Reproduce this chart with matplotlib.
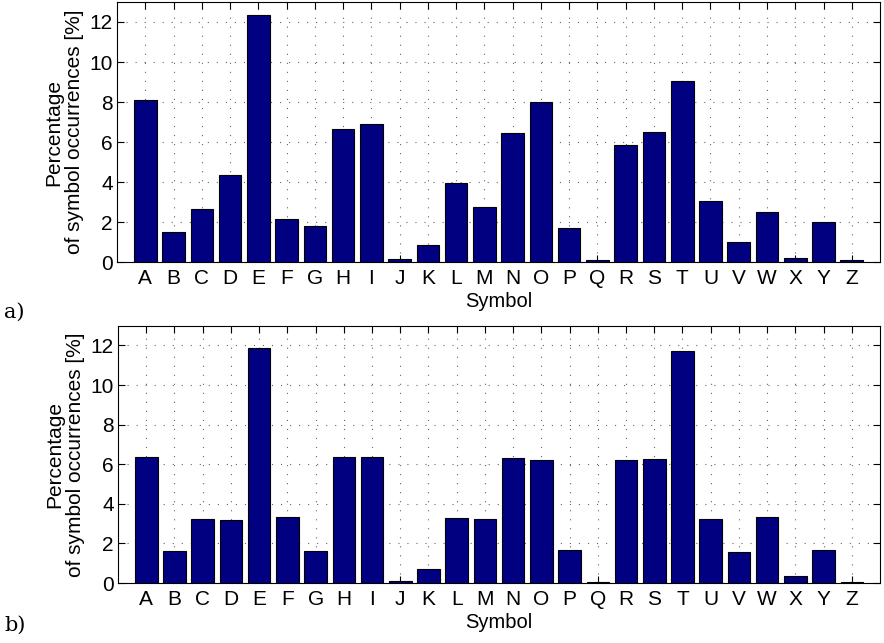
import matplotlib
matplotlib.use('Agg')
import matplotlib.pyplot as plt
import numpy as np

symbols = list('ABCDEFGHIJKLMNOPQRSTUVWXYZ')

# percentages for panel a)
freq_a = [8.10, 1.48, 2.63, 4.33, 12.37, 2.15, 1.80, 6.67, 6.88, 0.17, 0.87, 3.97, 2.75,
          6.43, 7.98, 1.70, 0.10, 5.83, 6.50, 9.03, 3.03, 1.00, 2.52, 0.18, 1.98, 0.08]
# percentages for panel b)
freq_b = [6.37, 1.61, 3.23, 3.18, 11.88, 3.34, 1.60, 6.35, 6.37, 0.12, 0.69, 3.28, 3.23,
          6.34, 6.22, 1.65, 0.04, 6.19, 6.24, 11.74, 3.23, 1.55, 3.33, 0.34, 1.65, 0.07]

plt.rcParams['font.family'] = ['Liberation Sans', 'DejaVu Sans']
plt.rcParams['lines.scale_dashes'] = False

fig = plt.figure(figsize=(8.84, 6.43), dpi=100)
ax_a = fig.add_axes([0.1324, 0.5925, 0.8631, 0.4044])
ax_b = fig.add_axes([0.1335, 0.0933, 0.8620, 0.4002])

x = np.arange(1, len(symbols) + 1)
for ax, vals, tag, ty in [(ax_a, freq_a, 'a)', 0.515), (ax_b, freq_b, 'b)', 0.028)]:
    ax.bar(x, vals, width=0.8, color='#000080', edgecolor='black', linewidth=0.8, zorder=3)
    ax.set_xlim(0, 27)
    ax.set_ylim(0, 13)
    ax.set_xticks(x)
    ax.set_xticklabels(symbols)
    ax.set_yticks(np.arange(0, 13, 2))
    ax.tick_params(direction='in', length=5, top=True, right=True, labelsize=15)
    ax.tick_params(axis='x', pad=5)
    ax.tick_params(axis='y', pad=3)
    ax.grid(True, linestyle=(0, (0.8, 5.7)), color='black', linewidth=0.8, alpha=0.6, zorder=0)
    ax.set_xlabel('Symbol', fontsize=14.5, labelpad=3)
    ax.set_ylabel('Percentage\nof symbol occurrences [%]', fontsize=15, labelpad=4,
                  linespacing=1.1)
    for s in ax.spines.values():
        s.set_linewidth(0.8)
    fig.text(0.005, ty, tag, fontsize=15, family='DejaVu Serif', va='center', ha='left')

fig.savefig('out.png', dpi=100)
